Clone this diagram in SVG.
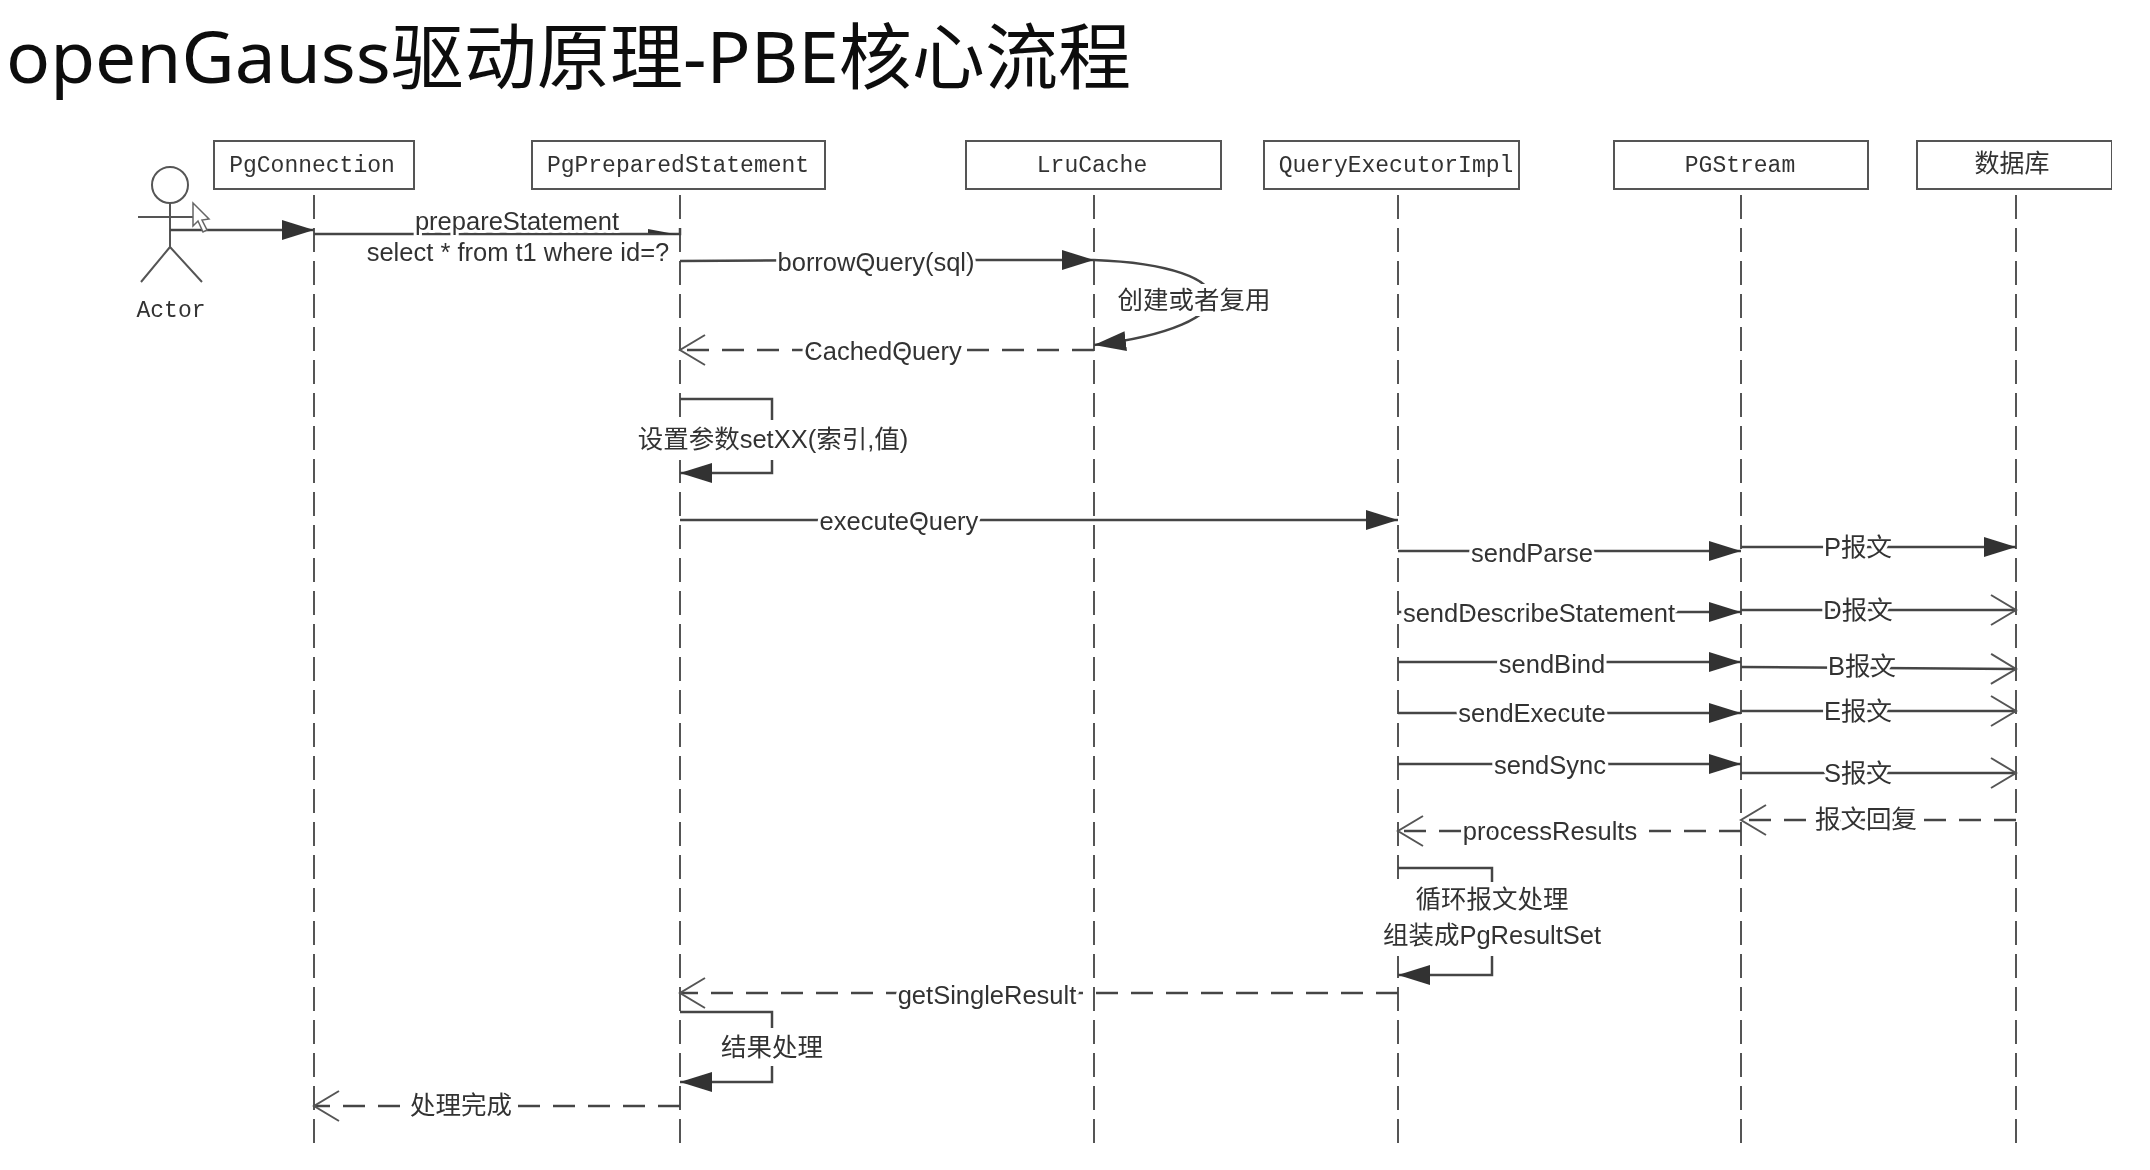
<svg xmlns="http://www.w3.org/2000/svg" width="2150" height="1170" viewBox="0 0 2150 1170">
<style>
.box{fill:#fff;stroke:#555;stroke-width:2}
.mono{font:23px "Liberation Mono",monospace;fill:#333;text-anchor:middle}
.life{stroke:#555;stroke-width:2;stroke-dasharray:24 9;fill:none}
.m{stroke:#444;stroke-width:2.5;fill:none}
.d{stroke:#444;stroke-width:2.5;fill:none;stroke-dasharray:22 13}
.f{marker-end:url(#fill)}
.o{marker-end:url(#open)}
.t{font:25.5px "Liberation Sans","Noto Sans CJK SC",sans-serif;fill:#333;text-anchor:middle;stroke:#fff;stroke-width:6;paint-order:stroke;stroke-linejoin:round}
.bg{fill:#fff}
.actor{stroke:#555;stroke-width:2;fill:none}
</style>
<defs>
<marker id="fill" markerUnits="userSpaceOnUse" markerWidth="34" markerHeight="22" refX="32" refY="11" orient="auto"><path d="M0 1L32 11L0 21Z" fill="#333"/></marker>
<marker id="open" markerUnits="userSpaceOnUse" markerWidth="30" markerHeight="36" refX="26" refY="18" orient="auto"><path d="M1 3L26 18L1 33" fill="none" stroke="#555" stroke-width="2"/></marker>
<filter id="soft" x="0" y="0" width="100%" height="100%"><feGaussianBlur stdDeviation="0.6"/></filter>
</defs>
<rect width="2150" height="1170" fill="#fff"/>
<g filter="url(#soft)">
<text id="title" x="6" y="83" font-family="Noto Sans, Noto Sans CJK SC, sans-serif" font-size="72" fill="#111" textLength="1125" lengthAdjust="spacingAndGlyphs">openGauss驱动原理-PBE核心流程</text>
<g id="lifelines">
<path class="life" d="M314 195V1145M680 195V1145M1094 195V1145M1398 195V1145M1741 195V1145M2016 195V1145"/>
</g>
<g id="actor"><circle class="actor" cx="170" cy="185" r="18"/><path class="actor" d="M170 203V247M138 217H203M170 247L141 282M170 247L202 282"/><text class="mono" x="171" y="317">Actor</text></g>
<g id="PgConnection"><rect class="box" x="214" y="141" width="200" height="48"/><text class="mono" x="312" y="172">PgConnection</text></g>
<g id="PgPreparedStatement"><rect class="box" x="532" y="141" width="293" height="48"/><text class="mono" x="678" y="172">PgPreparedStatement</text></g>
<g id="LruCache"><rect class="box" x="966" y="141" width="255" height="48"/><text class="mono" x="1092" y="172">LruCache</text></g>
<g id="QueryExecutorImpl"><rect class="box" x="1264" y="141" width="255" height="48"/><text class="mono" x="1396" y="172">QueryExecutorImpl</text></g>
<g id="PGStream"><rect class="box" x="1614" y="141" width="254" height="48"/><text class="mono" x="1740" y="172">PGStream</text></g>
<g id="database"><rect class="box" x="1917" y="141" width="195" height="48"/><text class="mono" x="2012" y="172" style="font-family:'Noto Sans CJK SC',sans-serif;font-size:25px">数据库</text></g>
<g id="connectors">
<path class="m f" d="M170 230H314"/>
<path class="m" d="M314 234H680V228"/>
<path d="M648 229L680 235L648 233Z" fill="#333"/>
<path class="m f" d="M680 261L860 260H1094"/>
<path class="m f" d="M1094 260C1250 266 1250 326 1094 345"/>
<path class="d o" d="M1094 350H680"/>
<path class="m f" d="M680 399H772V473H680"/>
<path class="m f" d="M680 520H1398"/>
<path class="m f" d="M1398 551H1741"/>
<path class="m f" d="M1741 547H2016"/>
<path class="m f" d="M1398 612H1741"/>
<path class="m o" d="M1741 610H2016"/>
<path class="m f" d="M1398 662H1741"/>
<path class="m o" d="M1741 667L2016 669"/>
<path class="m f" d="M1398 713H1741"/>
<path class="m o" d="M1741 711H2016"/>
<path class="m f" d="M1398 764H1741"/>
<path class="m o" d="M1741 773H2016"/>
<path class="d o" d="M1741 831H1398"/>
<path class="d o" d="M2016 820H1741"/>
<path class="m f" d="M1398 868H1492V975H1398"/>
<path class="d o" d="M1398 993H680"/>
<path class="m f" d="M680 1012H772V1082H680"/>
<path class="d o" d="M680 1106H314"/>
</g>
<g id="labels">
<rect class="bg" x="1116" y="284" width="156" height="32"/>
<rect class="bg" x="640" y="420" width="268" height="40"/>
<rect class="bg" x="1380" y="882" width="222" height="74"/>
<rect class="bg" x="722" y="1028" width="100" height="38"/>
<text class="t" x="517" y="230">prepareStatement</text>
<text class="t" x="518" y="261">select * from t1 where id=?</text>
<text class="t" x="876" y="271">borrowQuery(sql)</text>
<text class="t" x="1194" y="309">创建或者复用</text>
<text class="t" x="883" y="360">CachedQuery</text>
<text class="t" x="773" y="448">设置参数setXX(索引,值)</text>
<text class="t" x="899" y="530">executeQuery</text>
<text class="t" x="1532" y="562">sendParse</text>
<text class="t" x="1858" y="556">P报文</text>
<text class="t" x="1539" y="622">sendDescribeStatement</text>
<text class="t" x="1858" y="619">D报文</text>
<text class="t" x="1552" y="673">sendBind</text>
<text class="t" x="1862" y="675">B报文</text>
<text class="t" x="1532" y="722">sendExecute</text>
<text class="t" x="1858" y="720">E报文</text>
<text class="t" x="1550" y="774">sendSync</text>
<text class="t" x="1858" y="782">S报文</text>
<text class="t" x="1550" y="840">processResults</text>
<text class="t" x="1866" y="828">报文回复</text>
<text class="t" x="1492" y="908">循环报文处理</text>
<text class="t" x="1492" y="944">组装成PgResultSet</text>
<text class="t" x="987" y="1004">getSingleResult</text>
<text class="t" x="772" y="1056">结果处理</text>
<text class="t" x="461" y="1114">处理完成</text>
</g>
<g id="cursor"><path d="M193 203V226L198 221L203 232L207 230L202 220L209 219Z" fill="#fff" stroke="#666" stroke-width="1.5"/></g>
</g>
</svg>
